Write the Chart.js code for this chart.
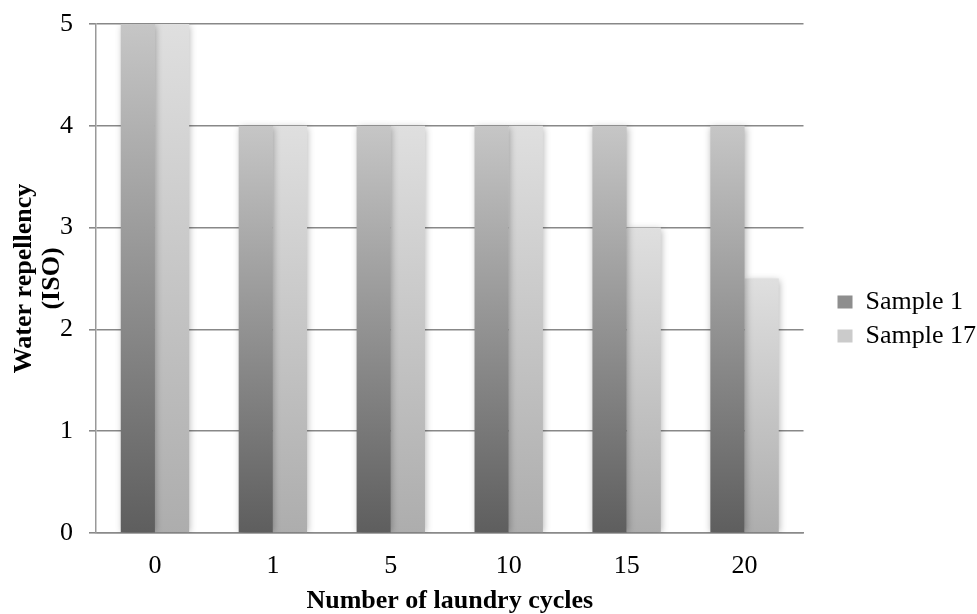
<!DOCTYPE html>
<html>
<head>
<meta charset="utf-8">
<title>Water repellency vs laundry cycles</title>
<script src="https://cdn.jsdelivr.net/npm/chart.js@4.4.1/dist/chart.umd.min.js"></script>
<style>
  html, body { margin: 0; padding: 0; background: #fff; }
  #wrap { width: 977px; height: 614px; }
</style>
</head>
<body>
<div id="wrap"><canvas id="myChart" width="977" height="614"></canvas></div>
<script>
const cycles = ['0', '1', '5', '10', '15', '20'];
const sample1 = [5, 4, 4, 4, 4, 4];
const sample17 = [5, 4, 4, 4, 3, 2.5];
const yTicks = [0, 1, 2, 3, 4, 5];

const serif = "'Liberation Serif', 'Times New Roman', serif";

// vertical gradient per bar, dark at the base and light at the top
function barFill(bottomColor, topColor) {
    return function (context) {
        const chart = context.chart;
        const yScale = chart.scales.y;
        if (!chart.chartArea || !yScale || context.raw === undefined) {
            return bottomColor;
        }
        const top = yScale.getPixelForValue(context.raw);
        const base = yScale.getPixelForValue(0);
        const g = chart.ctx.createLinearGradient(0, base, 0, top);
        g.addColorStop(0, bottomColor);
        g.addColorStop(1, topColor);
        return g;
    };
}

// soft shadow around the bars
const barShadow = {
    id: 'barShadow',
    beforeDatasetsDraw(chart) {
        const ctx = chart.ctx;
        ctx.save();
        ctx.shadowColor = 'rgba(0, 0, 0, 0.3)';
        ctx.shadowBlur = 7;
        ctx.shadowOffsetX = 1;
        ctx.shadowOffsetY = 1;
    },
    afterDatasetsDraw(chart) {
        chart.ctx.restore();
    }
};

const data = {
    labels: cycles,
    datasets: [
        {
            label: 'Sample 1',
            data: sample1,
            backgroundColor: barFill('#5e5e5e', '#c6c6c6'),
            borderWidth: 0
        },
        {
            label: 'Sample 17',
            data: sample17,
            backgroundColor: barFill('#adadad', '#dfdfdf'),
            borderWidth: 0
        }
    ]
};

const config = {
    type: 'bar',
    data: data,
    options: {
        responsive: false,
        animation: false,
        devicePixelRatio: 1,
        categoryPercentage: 0.58,
        barPercentage: 1.0,
        layout: { padding: { left: 10, right: -9, top: 24, bottom: 0 } },
        plugins: {
            legend: {
                position: 'right',
                align: 'center',
                padding: 0,
                labels: {
                    font: { family: serif, size: 26 },
                    color: '#000',
                    boxWidth: 15,
                    boxHeight: 13,
                    padding: 8,
                    generateLabels(chart) {
                        const fills = ['#8e8e8e', '#cbcbcb'];
                        return chart.data.datasets.map((ds, i) => ({
                            text: ds.label,
                            fillStyle: fills[i],
                            strokeStyle: fills[i],
                            lineWidth: 0,
                            fontColor: '#000',
                            datasetIndex: i
                        }));
                    }
                }
            },
            tooltip: { enabled: false }
        },
        scales: {
            x: {
                afterFit(scale) {
                    scale.height = 81;
                },
                grid: { display: false, tickLength: 0 },
                border: { display: true, color: '#8a8a8a', width: 1.5 },
                ticks: {
                    font: { family: serif, size: 26 },
                    color: '#000',
                    padding: 18
                },
                title: {
                    display: true,
                    text: 'Number of laundry cycles',
                    font: { family: serif, size: 26, weight: 'bold', lineHeight: 1.0 },
                    color: '#000',
                    padding: { top: 0, bottom: 0 }
                }
            },
            y: {
                min: 0,
                max: 5,
                afterBuildTicks(scale) {
                    scale.ticks = yTicks.map(v => ({ value: v }));
                },
                afterFit(scale) {
                    scale.width = 86;
                    scale.paddingTop = 0;
                    scale.paddingBottom = 0;
                },
                grid: {
                    color: '#888888',
                    lineWidth: 1.6,
                    tickLength: 7,
                    drawTicks: true
                },
                border: { display: true, color: '#999999', width: 1.5 },
                ticks: {
                    font: { family: serif, size: 26 },
                    color: '#000',
                    padding: 16
                },
                title: {
                    display: true,
                    text: ['Water repellency', '(ISO)'],
                    font: { family: serif, size: 26, weight: 'bold', lineHeight: 1.08 },
                    color: '#000',
                    padding: { top: 0, bottom: 0 }
                }
            },
            // empty right-hand axis keeps a gap between the plot and the legend
            gap: {
                type: 'linear',
                position: 'right',
                display: true,
                min: 0,
                max: 5,
                grid: { display: false },
                border: { display: false },
                ticks: { display: false },
                afterFit(scale) {
                    scale.width = 26;
                    scale.paddingTop = 0;
                    scale.paddingBottom = 0;
                }
            }
        }
    },
    plugins: [barShadow]
};

new Chart(document.getElementById('myChart').getContext('2d'), config);
</script>
</body>
</html>
